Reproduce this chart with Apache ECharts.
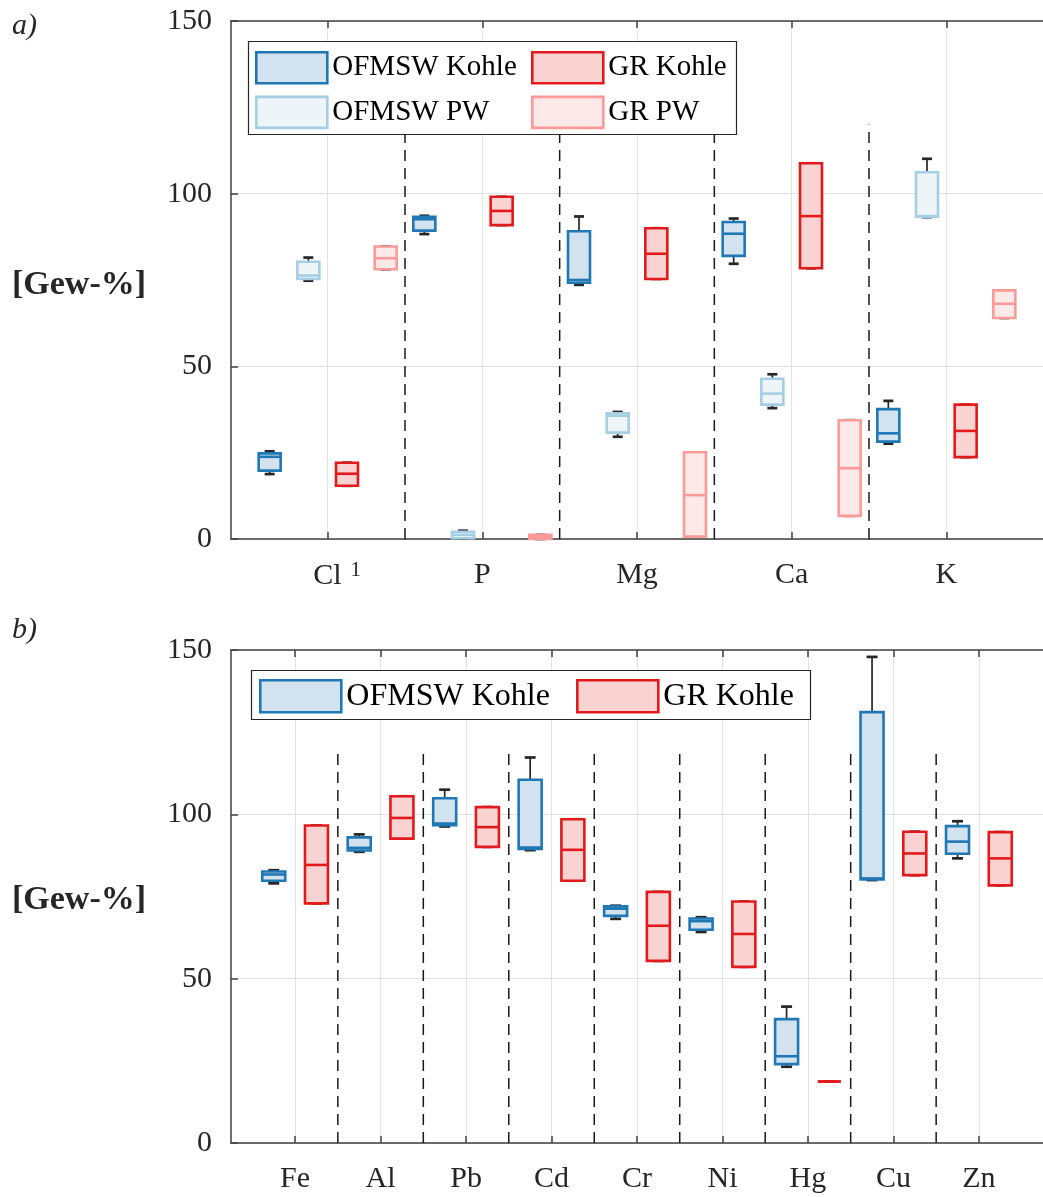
<!DOCTYPE html>
<html>
<head>
<meta charset="utf-8">
<script src="https://cdn.jsdelivr.net/npm/echarts@6/dist/echarts.min.js"></script>
<style>
  html, body { margin: 0; padding: 0; background: #fff; }
  #main { width: 1043px; height: 1197px; }
</style>
</head>
<body>
<div id="main"></div>
<script>
// values, each box is [min, q1, median, q3, max] in Gew-%
var topElements = ['Cl', 'P', 'Mg', 'Ca', 'K'];
var ofmswKohleTop = [[18.8, 19.8, 23.8, 24.8, 25.4], [88.3, 89.3, 92.6, 93.3, 93.6], [73.6, 74.2, 75.0, 89.1, 93.4], [79.7, 82.0, 88.4, 91.8, 92.8], [27.6, 28.2, 30.6, 37.6, 40.0]];
var ofmswPwTop = [[74.8, 75.3, 76.3, 80.3, 81.5], [0.2, 0.2, 1.2, 2.1, 2.4], [29.6, 30.8, 35.7, 36.4, 36.8], [37.9, 38.9, 42.1, 46.4, 47.7], [93.2, 93.3, 93.5, 106.2, 110.1]];
var grKohleTop = [[15.4, 15.4, 18.9, 22.1, 22.1], [90.9, 90.9, 95.0, 99.1, 99.1], [75.3, 75.3, 82.6, 90.0, 90.0], [78.4, 78.4, 93.5, 108.8, 108.8], [23.7, 23.7, 31.3, 38.9, 38.9]];
var grPwTop = [[78.1, 78.1, 81.3, 84.7, 84.7], [0, 0, 0.6, 1.2, 1.2], [0.7, 0.7, 12.7, 25.1, 25.1], [6.7, 6.7, 20.5, 34.4, 34.4], [64.0, 64.0, 68.1, 72.0, 72.0]];

var bottomElements = ['Fe', 'Al', 'Pb', 'Cd', 'Cr', 'Ni', 'Hg', 'Cu', 'Zn'];
var ofmswKohleBottom = [[79.0, 79.8, 81.7, 82.6, 83.0], [88.6, 89.0, 89.8, 93.0, 93.9], [96.3, 96.7, 97.2, 104.9, 107.5], [89.1, 89.5, 89.9, 110.5, 117.3], [68.2, 69.1, 71.3, 72.0, 72.2], [64.2, 64.9, 67.5, 68.3, 68.7], [23.2, 24.0, 26.4, 37.7, 41.5], [80.0, 80.2, 80.5, 131.1, 147.9], [86.6, 88.0, 91.7, 96.4, 97.9]];
var grKohleBottom = [[72.9, 72.9, 84.6, 96.6, 96.6], [92.6, 92.6, 98.9, 105.5, 105.5], [90.1, 90.1, 96.1, 102.2, 102.2], [79.8, 79.8, 89.2, 98.5, 98.5], [55.4, 55.4, 66.1, 76.4, 76.4], [53.6, 53.6, 63.6, 73.5, 73.5], [18.7, 18.7, 18.7, 18.7, 18.7], [81.5, 81.5, 88.1, 94.7, 94.7], [78.4, 78.4, 86.6, 94.6, 94.6]];

var sepTop = 120; // dashed separators end here

var font = '"Liberation Serif", "Times New Roman", serif';
var txt = '#262626';
var gridCol = '#e2e2e2';

var styles = {
    'OFMSW Kohle': { stroke: '#1f78b4', fill: '#d2e3ef' },
    'OFMSW PW': { stroke: '#a6cee3', fill: '#edf5f9' },
    'GR Kohle': { stroke: '#e31a1c', fill: '#f9d2d2' },
    'GR PW': { stroke: '#fb9a99', fill: '#fee9e9' }
};

var chart = echarts.init(document.getElementById('main'));

function boxRender(name, boxW, capW) {
    var st = styles[name];
    return function (params, api) {
        var x = api.value(0);
        var lo = api.coord([x, api.value(1)]);
        var q1 = api.coord([x, api.value(2)]);
        var md = api.coord([x, api.value(3)]);
        var q3 = api.coord([x, api.value(4)]);
        var hi = api.coord([x, api.value(5)]);
        var cx = q1[0];
        var kids = [];
        var wl = { stroke: '#262626', lineWidth: 1.7 };
        var cl = { stroke: '#262626', lineWidth: 2.7 };
        if (hi[1] < q3[1] - 1) {
            kids.push({ type: 'line', shape: { x1: cx, y1: q3[1], x2: cx, y2: hi[1] }, style: wl });
        }
        if (lo[1] > q1[1] + 1) {
            kids.push({ type: 'line', shape: { x1: cx, y1: q1[1], x2: cx, y2: lo[1] }, style: wl });
        }
        kids.push({ type: 'line', shape: { x1: cx - capW / 2, y1: hi[1], x2: cx + capW / 2, y2: hi[1] }, style: cl });
        kids.push({ type: 'line', shape: { x1: cx - capW / 2, y1: lo[1], x2: cx + capW / 2, y2: lo[1] }, style: cl });
        kids.push({
            type: 'rect',
            shape: { x: cx - boxW / 2, y: q3[1], width: boxW, height: q1[1] - q3[1] },
            style: { fill: st.fill, stroke: st.stroke, lineWidth: 2.6 }
        });
        kids.push({ type: 'line', shape: { x1: cx - boxW / 2, y1: md[1], x2: cx + boxW / 2, y2: md[1] }, style: { stroke: st.stroke, lineWidth: 2.6 } });
        return { type: 'group', children: kids };
    };
}

function boxSeries(name, vals, perGroup, idx, gridIdx, boxW, capW) {
    var data = vals.map(function (v, g) {
        return [g * perGroup + idx + 1].concat(v);
    });
    return {
        name: name,
        type: 'custom',
        xAxisIndex: gridIdx * 2,
        yAxisIndex: gridIdx,
        itemStyle: { color: styles[name].fill, borderColor: styles[name].stroke },
        renderItem: boxRender(name, boxW, capW),
        data: data,
        z: 3
    };
}

function sepSeries(nGroups, perGroup, gridIdx) {
    var data = [];
    for (var g = 1; g < nGroups; g++) data.push([g * perGroup + 0.5]);
    return {
        type: 'custom',
        xAxisIndex: gridIdx * 2,
        yAxisIndex: gridIdx,
        silent: true,
        z: 2,
        renderItem: function (params, api) {
            var a = api.coord([api.value(0), 0]);
            var b = api.coord([api.value(0), sepTop]);
            return {
                type: 'line',
                shape: { x1: a[0], y1: a[1], x2: b[0], y2: b[1] },
                style: { stroke: '#1a1a1a', lineWidth: 1.5, lineDash: [11, 7] }
            };
        },
        data: data
    };
}

function centerTicks(names, perGroup) {
    return names.map(function (n, i) { return i * perGroup + (perGroup + 1) / 2; });
}

var ticksTop = centerTicks(topElements, 4);
var ticksBottom = centerTicks(bottomElements, 2);

function xAxes(gridIdx, max, ticks, names) {
    var lineSt = { color: '#404040', width: 1.5 };
    return [{
        type: 'value', gridIndex: gridIdx, min: 0, max: max, position: 'bottom',
        axisLine: { show: true, onZero: false, lineStyle: lineSt },
        axisTick: { show: true, inside: true, length: 7, customValues: ticks, lineStyle: lineSt },
        axisLabel: {
            customValues: ticks, margin: 21, color: txt, fontFamily: font, fontSize: 30,
            formatter: function (v) {
                var n = names[ticks.indexOf(v)] || '';
                if (n === 'Cl') return '{c|Cl}{s|1}';
                return n;
            },
            rich: {
                c: { fontFamily: font, fontSize: 30, color: txt, padding: [0, 0, 0, 19] },
                s: { fontFamily: font, fontSize: 21, color: txt, padding: [0, 0, 12, 9] }
            }
        },
        splitLine: { show: true, lineStyle: { color: gridCol, width: 1 } }
    }, {
        type: 'value', gridIndex: gridIdx, min: 0, max: max, position: 'top',
        axisLine: { show: true, onZero: false, lineStyle: lineSt },
        axisTick: { show: true, inside: true, length: 7, customValues: ticks, lineStyle: lineSt },
        axisLabel: { show: false },
        splitLine: { show: false }
    }];
}

function yAxis(gridIdx) {
    return {
        type: 'value', gridIndex: gridIdx, min: 0, max: 150, interval: 50,
        axisLine: { show: true, onZero: false, lineStyle: { color: '#404040', width: 1.5 } },
        axisTick: { show: true, inside: true, length: 7, lineStyle: { color: '#404040', width: 1.5 } },
        axisLabel: { margin: 19, color: txt, fontFamily: font, fontSize: 30 },
        splitLine: { show: true, lineStyle: { color: gridCol, width: 1 } }
    };
}

function legendItem(name) {
    return { name: name, icon: 'rect', itemStyle: { color: styles[name].fill, borderColor: styles[name].stroke, borderWidth: 2.6 } };
}

function legend(left, top, names, w, h, gap, size) {
    return {
        left: left, top: top, orient: 'vertical', padding: 0,
        itemWidth: w, itemHeight: h, itemGap: gap, selectedMode: false, z: 20,
        textStyle: { fontFamily: font, fontSize: size, color: '#000', padding: [0, 0, 0, 0] },
        data: names.map(legendItem)
    };
}

chart.setOption({
    animation: false,
    backgroundColor: '#fff',
    grid: [
        { left: 231, top: 21, width: 820, height: 518 },
        { left: 231, top: 650, width: 820, height: 493 }
    ],
    xAxis: xAxes(0, 21, ticksTop, topElements).concat(xAxes(1, 19, ticksBottom, bottomElements)),
    yAxis: [yAxis(0), yAxis(1)],
    legend: [
        legend(255, 51, ['OFMSW Kohle', 'OFMSW PW'], 71, 31, 11, 29),
        legend(531, 51, ['GR Kohle', 'GR PW'], 71, 31, 11, 29),
        legend(259, 679, ['OFMSW Kohle'], 81, 32, 10, 32),
        legend(576, 679, ['GR Kohle'], 81, 32, 10, 32)
    ],
    graphic: [
        { type: 'rect', z: 15, shape: { x: 248.5, y: 41.5, width: 488, height: 93 }, style: { fill: '#fff', stroke: '#262626', lineWidth: 1.2 } },
        { type: 'rect', z: 15, shape: { x: 251.5, y: 670.5, width: 559, height: 49 }, style: { fill: '#fff', stroke: '#262626', lineWidth: 1.2 } },
        { type: 'text', z: 15, x: 12, y: 11, style: { text: 'a)', font: 'italic 30px ' + font, fill: txt } },
        { type: 'text', z: 15, x: 12, y: 615, style: { text: 'b)', font: 'italic 30px ' + font, fill: txt } },
        { type: 'text', z: 15, x: 12, y: 268, style: { text: '[Gew-%]', font: 'bold 34px ' + font, fill: txt } },
        { type: 'text', z: 15, x: 12, y: 883, style: { text: '[Gew-%]', font: 'bold 34px ' + font, fill: txt } }
    ],
    series: [
        sepSeries(topElements.length, 4, 0),
        sepSeries(bottomElements.length, 2, 1),
        boxSeries('OFMSW Kohle', ofmswKohleTop, 4, 0, 0, 22, 10),
        boxSeries('OFMSW PW', ofmswPwTop, 4, 1, 0, 22, 10),
        boxSeries('GR Kohle', grKohleTop, 4, 2, 0, 22, 10),
        boxSeries('GR PW', grPwTop, 4, 3, 0, 22, 10),
        boxSeries('OFMSW Kohle', ofmswKohleBottom, 2, 0, 1, 23, 11),
        boxSeries('GR Kohle', grKohleBottom, 2, 1, 1, 23, 11)
    ]
});
</script>
</body>
</html>
